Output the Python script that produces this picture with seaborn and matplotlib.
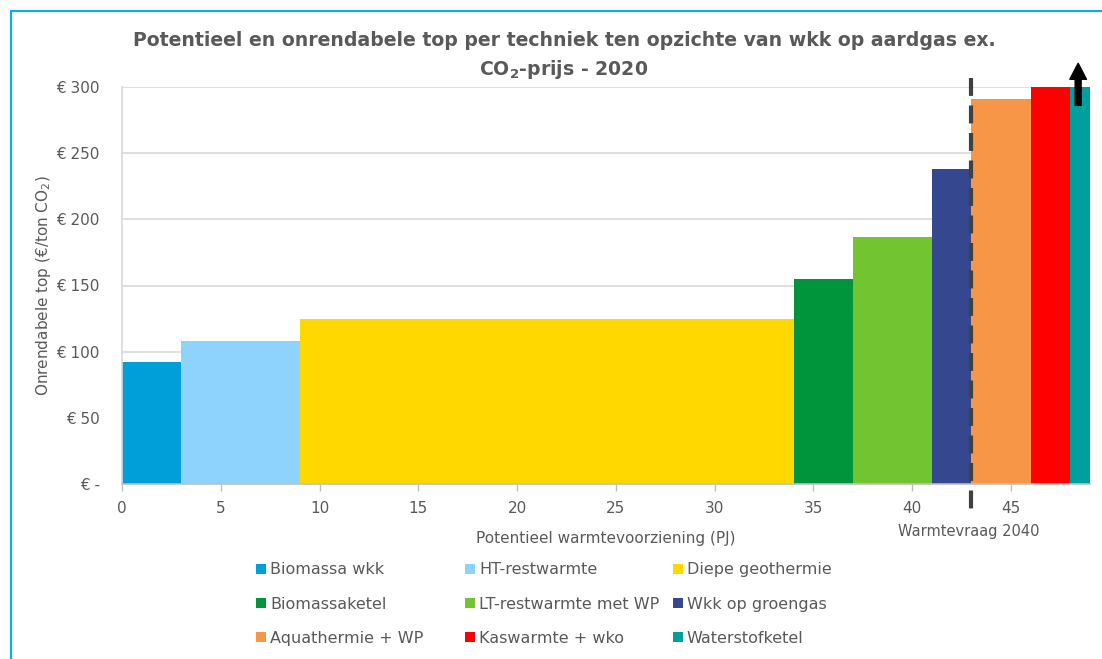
import numpy as np
import matplotlib
matplotlib.use('Agg')
import matplotlib.pyplot as plt
import seaborn as sns
from matplotlib.patches import Patch, FancyArrowPatch
from matplotlib.lines import Line2D
from matplotlib.ticker import FuncFormatter

# Data: potential per technique (PJ) and unprofitable top (EUR/ton CO2)
technieken = ['Biomassa wkk', 'HT-restwarmte', 'Diepe geothermie',
              'Biomassaketel', 'LT-restwarmte met WP', 'Wkk op groengas',
              'Aquathermie + WP', 'Kaswarmte + wko', 'Waterstofketel']
potentieel = [3, 6, 25, 3, 4, 2, 3, 2, 1]
onrendabel = [92, 108, 125, 155, 187, 238, 291, 300, 300]
kleuren = ['#009FDA', '#8DD3FD', '#FFD800', '#00953A', '#72C431',
           '#34478F', '#F79646', '#FF0000', '#009F9F']
warmtevraag_2040 = 43
x_ticks = [0, 5, 10, 15, 20, 25, 30, 35, 40, 45]
y_ticks = [0, 50, 100, 150, 200, 250, 300]

sns.set_theme(style='whitegrid')
plt.rcParams['font.family'] = ['DejaVu Sans']
plt.rcParams['mathtext.default'] = 'regular'
grijs = '#595959'

fig = plt.figure(figsize=(11.02, 6.59), dpi=100)
ax = fig.add_axes([122 / 1102, 1 - 484 / 659, (1090 - 122) / 1102, (484 - 87) / 659])

starts = np.concatenate([[0], np.cumsum(potentieel)[:-1]])
ax.bar(starts, onrendabel, width=potentieel, align='edge', color=kleuren,
       linewidth=0, zorder=2)

ax.set_xlim(0, sum(potentieel))
ax.set_ylim(0, 300)
ax.set_xticks(x_ticks)
ax.set_yticks(y_ticks)
ax.yaxis.set_major_formatter(FuncFormatter(lambda v, p: '€ -' if v == 0 else f'€ {int(v)}'))
ax.grid(axis='x', visible=False)
ax.grid(axis='y', color='#d9d9d9', linewidth=1.2, zorder=0)
for side in ['top', 'right']:
    ax.spines[side].set_visible(False)
ax.spines['left'].set_color('#d9d9d9')
ax.spines['bottom'].set_color('#bfbfbf')
ax.spines['left'].set_linewidth(1.2)
ax.spines['bottom'].set_linewidth(1.2)
ax.tick_params(axis='x', colors='#bfbfbf', labelcolor=grijs, labelsize=11,
               length=5, width=1, direction='out', bottom=True, pad=7)
ax.tick_params(axis='y', labelcolor=grijs, labelsize=11, length=0, pad=16)

ax.set_xlabel('Potentieel warmtevoorziening (PJ)', color=grijs, fontsize=11, labelpad=11)
ax.set_ylabel('Onrendabele top (€/ton CO$_2$)', color=grijs, fontsize=11, labelpad=2)

# dashed line for heat demand 2040 (drawn top-down so it starts with a full dash)
ax.plot([warmtevraag_2040, warmtevraag_2040], [307, -23], color='#404040',
        linewidth=3, linestyle=(0, (4.3, 2.3)), clip_on=False, zorder=4)
ax.text(warmtevraag_2040 - 0.15, -30, 'Warmtevraag 2040', ha='center', va='top',
        color=grijs, fontsize=10.5)

# arrow: waterstofketel beyond scale
arrow = FancyArrowPatch((48.4, 284), (48.4, 320),
                        arrowstyle='simple,head_length=11.5,head_width=12,tail_width=4.3',
                        mutation_scale=1, color='black', clip_on=False, zorder=5)
ax.add_patch(arrow)

fig.text(564 / 1102, 1 - 56 / 659,
         'Potentieel en onrendabele top per techniek ten opzichte van wkk op aardgas ex.\n'
         'CO$_2$-prijs - 2020',
         ha='center', va='center', fontsize=13.6, fontweight='bold', color=grijs,
         linespacing=1.45)

# legend: three fixed-width columns, filled row by row
handles = [Patch(facecolor=c, edgecolor='none') for c in kleuren]
col_x = [250, 459, 667]
for k, x in enumerate(col_x):
    idx = [k, k + 3, k + 6]
    fig.legend([handles[i] for i in idx], [technieken[i] for i in idx],
               ncol=1, loc='upper left', bbox_to_anchor=(x / 1102, 1 - 556 / 659),
               frameon=False, fontsize=11.5, labelcolor=grijs, handlelength=0.6,
               handleheight=0.6, handletextpad=0.25, labelspacing=1.2,
               borderaxespad=0)

# blue frame at top-left
blauw = '#00B0F0'
fig.add_artist(Line2D([11 / 1102, 11 / 1102], [0, 1 - 11 / 659], color=blauw,
                      linewidth=1.5, transform=fig.transFigure))
fig.add_artist(Line2D([11 / 1102, 1], [1 - 11 / 659, 1 - 11 / 659], color=blauw,
                      linewidth=1.5, transform=fig.transFigure))

fig.savefig('out.png', dpi=100)
